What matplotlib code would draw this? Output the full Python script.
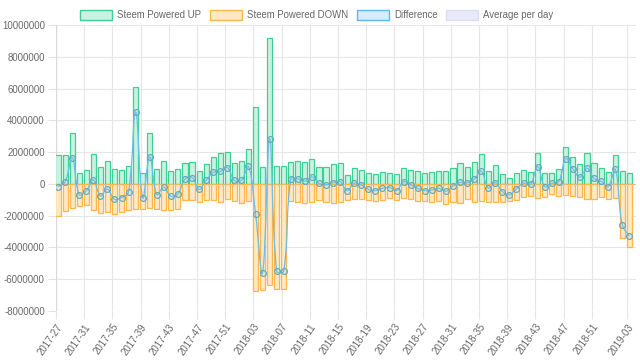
import numpy as np
import matplotlib
matplotlib.use("Agg")
import matplotlib.pyplot as plt
from matplotlib.path import Path
from matplotlib.patches import PathPatch, Rectangle

# weekly labels (year-week)
weeks = ([f"2017-{w:02d}" for w in range(27, 53)]
         + [f"2018-{w:02d}" for w in range(1, 53)]
         + [f"2019-{w:02d}" for w in range(0, 4)])

# values in millions of STEEM
powered_up = [1.82, 1.80, 3.19, 0.71, 0.88, 1.89, 1.09, 1.47, 0.94, 0.88,
              1.13, 6.12, 0.71, 3.23, 0.92, 1.43, 0.84, 0.96, 1.30, 1.40,
              0.80, 1.24, 1.72, 1.93, 1.99, 1.30, 1.45, 2.20, 4.86, 1.07,
              9.20, 1.11, 1.11, 1.38, 1.43, 1.40, 1.55, 1.07, 1.09, 1.26,
              1.30, 0.57, 1.00, 0.88, 0.67, 0.63, 0.73, 0.67, 0.61, 1.00,
              0.88, 0.80, 0.67, 0.73, 0.78, 0.78, 1.00, 1.30, 1.05, 1.40,
              1.89, 0.84, 1.19, 0.63, 0.40, 0.71, 0.88, 0.75, 1.97, 0.67,
              0.67, 0.94, 2.31, 1.72, 1.24, 1.93, 1.30, 1.00, 0.75, 1.80,
              0.84, 0.71]
powered_down = [1.99, 1.68, 1.53, 1.38, 1.32, 1.64, 1.84, 1.80, 1.91, 1.74,
                1.64, 1.59, 1.59, 1.53, 1.59, 1.64, 1.62, 1.59, 1.00, 1.00,
                1.15, 1.02, 1.00, 1.15, 0.96, 1.08, 1.22, 1.10, 6.73, 6.67,
                6.35, 6.60, 6.60, 1.07, 1.12, 1.23, 1.11, 1.03, 1.15, 1.18,
                1.15, 0.99, 0.96, 0.96, 1.01, 1.05, 1.02, 0.90, 1.03, 0.87,
                0.94, 1.09, 1.09, 1.11, 1.07, 1.24, 1.13, 1.20, 0.97, 1.11,
                1.09, 1.11, 1.11, 1.11, 1.09, 1.02, 0.84, 0.77, 0.88, 0.84,
                0.63, 0.79, 0.72, 0.78, 0.82, 0.94, 0.96, 0.83, 0.92, 0.88,
                3.40, 4.00]

up = np.array(powered_up) * 1e6
down = -np.array(powered_down) * 1e6
diff = up + down
x = np.arange(len(weeks))

W, H = 640, 361
fig = plt.figure(figsize=(W / 100, H / 100), dpi=100)
plt.rcParams['font.family'] = ['Liberation Sans', 'DejaVu Sans']
fs = 6.9
grey = '#666666'

left, right, top, bottom = 55.7, 636, 25, 311
ax = fig.add_axes([left / W, 1 - bottom / H, (right - left) / W, (bottom - top) / H])
ax.set_xlim(-0.33, 81.95)
ax.set_ylim(-8e6, 10e6)

green_e, green_f = '#3fcf94', '#c8f3e2'
orange_e, orange_f = '#fdb64c', '#ffe8c4'
blue_e, blue_f = '#62b6e9', '#d7ebfa'
lav_e, lav_f = '#dcdcf6', '#e9e9fb'

ax.bar(x, up, width=0.72, color=green_f, edgecolor=green_e, linewidth=0.9, zorder=3)
ax.bar(x, down, width=0.72, color=orange_f, edgecolor=orange_e, linewidth=0.9, zorder=3)

# chart.js style bezier line (tension 0.4)
def spline_path(xs, ys, t=0.4):
    pts = ax.transData.transform(np.column_stack([xs, ys]))
    n = len(pts)
    cps = []
    for i in range(n):
        prev, cur, nxt = pts[max(i - 1, 0)], pts[i], pts[min(i + 1, n - 1)]
        d01 = np.hypot(*(cur - prev))
        d12 = np.hypot(*(nxt - cur))
        s = d01 + d12
        fa = t * d01 / s if s else 0
        fb = t * d12 / s if s else 0
        cps.append((cur - fa * (nxt - prev), cur + fb * (nxt - prev)))
    verts = [pts[0]]
    codes = [Path.MOVETO]
    for i in range(1, n):
        verts += [cps[i - 1][1], cps[i][0], pts[i]]
        codes += [Path.CURVE4] * 3
    verts = ax.transData.inverted().transform(np.array(verts))
    return Path(verts, codes)

ax.add_patch(PathPatch(spline_path(x, diff), facecolor='none', edgecolor='#6cbcec',
                       linewidth=0.9, zorder=4))
ax.plot(x, diff, linestyle='none', marker='o', markersize=4.2,
        markerfacecolor=(0.6, 0.8, 0.9, 0.18), markeredgecolor='#64a9b6',
        markeredgewidth=0.85, zorder=5)

# axes / grid
tick_idx = list(range(0, 77, 4)) + [81]
ax.set_xticks(np.array(tick_idx) - 0.3)
ax.set_xticklabels([weeks[i] for i in tick_idx], rotation=55, ha='right',
                   va='top', rotation_mode='anchor', fontsize=fs, color=grey)
yt = np.arange(-8e6, 10e6 + 1, 2e6)
ax.set_yticks(yt)
ax.set_yticklabels([f"{int(v)}" for v in yt], fontsize=fs, color=grey)
ax.tick_params(axis='both', length=5.8, width=0.8, color='#e3e3e3', pad=2)
ax.grid(True, color='#e6e6e6', linewidth=0.8, zorder=0)
ax.set_axisbelow(True)
for s in ax.spines.values():
    s.set_visible(False)
ax.axhline(0, color='#c4c4c4', linewidth=0.9, zorder=1)
ax.axvline(-0.33, color='#d9d9d9', linewidth=0.9, zorder=1)

# legend
items = [("Steem Powered UP", green_e, green_f, 80),
         ("Steem Powered DOWN", orange_e, orange_f, 210),
         ("Difference", blue_e, blue_f, 357),
         ("Average per day", lav_e, lav_f, 446)]
for label, ec, fc, bx in items:
    fig.patches.append(Rectangle((bx / W, 1 - 19.5 / H), 32 / W, 10 / H,
                                 transform=fig.transFigure, facecolor=fc,
                                 edgecolor=ec, linewidth=1.0))
    fig.text((bx + 37) / W, 1 - 14.5 / H, label, fontsize=fs, color=grey,
             ha='left', va='center')

fig.savefig("out.png", dpi=100)
